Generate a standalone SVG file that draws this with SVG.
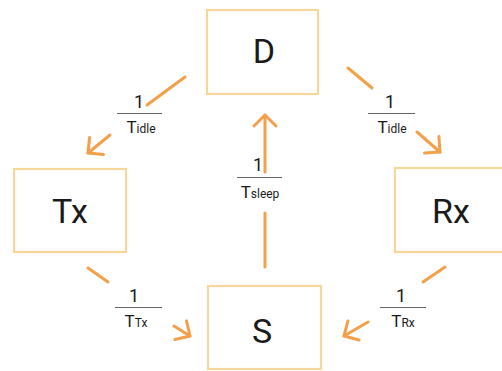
<svg xmlns="http://www.w3.org/2000/svg" width="502" height="371" viewBox="0 0 502 371">
<style>
.box{fill:#fff;stroke:#F7D69C;stroke-width:2.2}
.lbl{font-family:Roboto,"Liberation Sans",sans-serif;fill:#1a1a1a;text-anchor:middle}
.node{font-size:34px}
.num{font-size:18px}
.big{font-size:17px}
.sub{font-size:12px}
.frac{stroke:#666;stroke-width:1}
.edge{stroke:#F4A04A;stroke-width:3;fill:none;stroke-linecap:round}
</style>
<defs>
<marker id="ah" markerUnits="userSpaceOnUse" markerWidth="30" markerHeight="30" refX="0" refY="0" viewBox="-15 -15 30 30" orient="auto">
<path d="M-11,-11 L0,0 L-11,11" fill="none" stroke="#F4A04A" stroke-width="3" stroke-linecap="round" stroke-linejoin="round"/>
</marker>
</defs>
<rect width="502" height="371" fill="#fff"/>
<g id="D"><rect class="box" x="207" y="10" width="111" height="84"/><text class="lbl node" x="264" y="63">D</text></g>
<g id="Tx"><rect class="box" x="14" y="169" width="112" height="83"/><text class="lbl node" x="70" y="223">Tx</text></g>
<g id="Rx"><rect class="box" x="395" y="168" width="112" height="84"/><text class="lbl node" x="451" y="223">Rx</text></g>
<g id="S"><rect class="box" x="208" y="286" width="113" height="83"/><text class="lbl node" x="262" y="343">S</text></g>
<g id="connectors">
<line class="edge" x1="185" y1="77" x2="147" y2="105"/>
<line class="edge" x1="110" y1="135" x2="88" y2="153" marker-end="url(#ah)"/>
<line class="edge" x1="348" y1="68" x2="372" y2="88"/>
<line class="edge" x1="417" y1="132" x2="440" y2="152" marker-end="url(#ah)"/>
<line class="edge" x1="265" y1="267" x2="265" y2="213"/>
<line class="edge" x1="265" y1="172" x2="265" y2="115" marker-end="url(#ah)"/>
<line class="edge" x1="88" y1="268" x2="108" y2="282"/>
<line class="edge" x1="174" y1="326" x2="190" y2="336" marker-end="url(#ah)"/>
<line class="edge" x1="445" y1="267" x2="423" y2="282"/>
<line class="edge" x1="368" y1="322" x2="344" y2="336" marker-end="url(#ah)"/>
</g>
<g id="labels">
<g><text class="lbl num" x="139" y="108">1</text><line class="frac" x1="117" y1="113.5" x2="162" y2="113.5"/><text class="lbl" x="141" y="133"><tspan class="big">T</tspan><tspan class="sub">idle</tspan></text></g>
<g><text class="lbl num" x="390" y="108">1</text><line class="frac" x1="368" y1="113.5" x2="415" y2="113.5"/><text class="lbl" x="392" y="133"><tspan class="big">T</tspan><tspan class="sub">idle</tspan></text></g>
<g><text class="lbl num" x="258" y="171">1</text><line class="frac" x1="237" y1="177.5" x2="282" y2="177.5"/><text class="lbl" x="260" y="198"><tspan class="big">T</tspan><tspan class="sub">sleep</tspan></text></g>
<g><text class="lbl num" x="134" y="302">1</text><line class="frac" x1="115" y1="307.5" x2="162" y2="307.5"/><text class="lbl" x="136" y="327"><tspan class="big">T</tspan><tspan class="sub">Tx</tspan></text></g>
<g><text class="lbl num" x="401" y="302">1</text><line class="frac" x1="380" y1="307.5" x2="426" y2="307.5"/><text class="lbl" x="403" y="327"><tspan class="big">T</tspan><tspan class="sub">Rx</tspan></text></g>
</g>
</svg>
